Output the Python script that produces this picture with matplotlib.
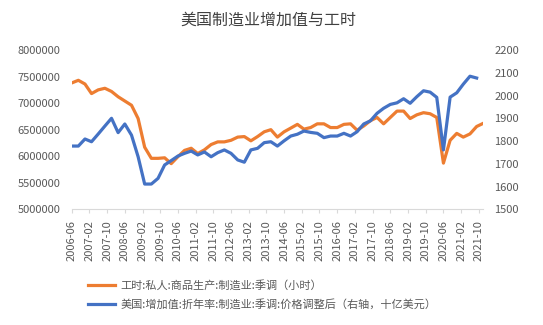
import numpy as np
import pandas as pd
import matplotlib
matplotlib.use('Agg')
import matplotlib.pyplot as plt

plt.rcParams['font.family'] = ['Noto Sans CJK SC', 'DejaVu Sans']

# 季度数据, 2006-06 起
hours = [7.38, 7.43, 7.36, 7.18, 7.25, 7.28, 7.22, 7.12, 7.04, 6.96,
         6.71, 6.17, 5.96, 5.96, 5.97, 5.86, 5.99, 6.11, 6.15, 6.05,
         6.12, 6.22, 6.27, 6.27, 6.30, 6.36, 6.37, 6.29, 6.37, 6.46,
         6.50, 6.36, 6.46, 6.53, 6.60, 6.51, 6.54, 6.61, 6.61, 6.54,
         6.54, 6.60, 6.61, 6.49, 6.57, 6.67, 6.73, 6.61, 6.73, 6.85,
         6.85, 6.71, 6.78, 6.82, 6.80, 6.73, 5.87, 6.30, 6.43, 6.36,
         6.42, 6.56, 6.62]  # 百万小时
value_added = [1778, 1778, 1809, 1797, 1831, 1866, 1900, 1837, 1875, 1826,
               1731, 1611, 1611, 1636, 1695, 1714, 1734, 1746, 1756, 1739,
               1752, 1731, 1749, 1761, 1746, 1717, 1707, 1761, 1768, 1793,
               1797, 1778, 1801, 1822, 1830, 1844, 1838, 1834, 1815, 1822,
               1822, 1834, 1822, 1841, 1875, 1889, 1922, 1944, 1961, 1968,
               1986, 1966, 1995, 2021, 2015, 1992, 1761, 1993, 2012, 2050,
               2085, 2077]  # 十亿美元

label_hours = '工时:私人:商品生产:制造业:季调（小时）'
label_va = '美国:增加值:折年率:制造业:季调:价格调整后（右轴，十亿美元）'
title = '美国制造业增加值与工时'

dates_h = pd.date_range('2006-06-01', periods=len(hours), freq='3MS')
dates_v = pd.date_range('2006-06-01', periods=len(value_added), freq='3MS')
ticks = pd.date_range('2006-06-01', '2021-10-01', freq='8MS')

orange = '#ED7D31'
blue = '#4472C4'
txt = '#595959'

fig = plt.figure(figsize=(5.43, 3.25), dpi=100)
ax = fig.add_axes([0.132, 0.356, 0.758, 0.490])
ax2 = ax.twinx()

l1, = ax.plot(dates_h, np.array(hours) * 1e6, color=orange, lw=2.3,
              solid_joinstyle='round')
l2, = ax2.plot(dates_v, value_added, color=blue, lw=2.3,
               solid_joinstyle='round')

ax.set_xlim(pd.Timestamp('2006-06-01'), pd.Timestamp('2021-12-01'))
ax.set_ylim(5000000, 8000000)
ax.set_yticks(np.arange(5000000, 8000001, 500000))
ax.yaxis.set_major_formatter(matplotlib.ticker.FuncFormatter(lambda v, p: '%d' % v))
ax2.set_ylim(1500, 2200)
ax2.set_yticks(np.arange(1500, 2201, 100))

ax.set_xticks(ticks)
ax.set_xticklabels([d.strftime('%Y-%m') for d in ticks], rotation=90)

for a in (ax, ax2):
    for s in a.spines.values():
        s.set_visible(False)
ax.spines['bottom'].set_visible(True)
ax.spines['bottom'].set_color('#d9d9d9')
ax.tick_params(axis='x', colors='#d9d9d9', length=3, width=0.8,
               labelcolor=txt, labelsize=8, pad=5)
ax.tick_params(axis='y', length=0, labelcolor=txt, labelsize=8, pad=8)
ax2.tick_params(axis='y', length=0, labelcolor=txt, labelsize=8, pad=8)

fig.text(0.495, 0.937, title, ha='center', va='center', fontsize=11.5,
         color='#404040')

fig.legend([l1, l2], [label_hours, label_va], loc='upper left',
           bbox_to_anchor=(0.162, 0.138), frameon=False, fontsize=8,
           handlelength=2.4, handletextpad=0.5, labelspacing=0.7,
           labelcolor=txt, borderaxespad=0, borderpad=0)

fig.savefig('out.png', dpi=100, facecolor='white')
